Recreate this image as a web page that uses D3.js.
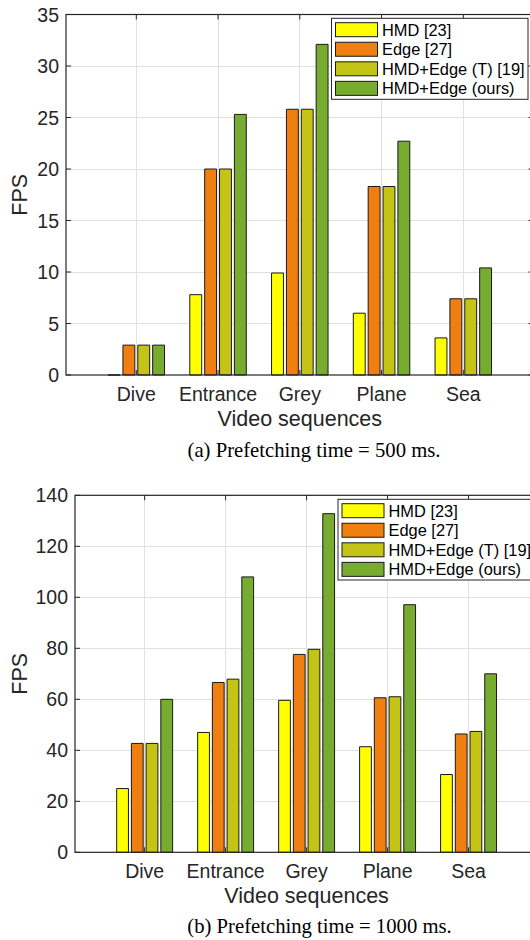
<!DOCTYPE html>
<html>
<head>
<meta charset="utf-8">
<script src="https://cdn.jsdelivr.net/npm/d3@7"></script>
<style>
  html, body { margin: 0; padding: 0; background: #fff; }
  svg { display: block; }
</style>
</head>
<body>
<svg id="fig" width="530" height="940"></svg>
<script>
// ---------- data ----------
const categories = ["Dive", "Entrance", "Grey", "Plane", "Sea"];
const seriesNames = ["HMD [23]", "Edge [27]", "HMD+Edge (T) [19]", "HMD+Edge (ours)"];
const seriesColors = ["#FFFF00", "#EE7F10", "#C4C416", "#77AC30"];

// (a) Prefetching time = 500 ms
const a_hmd   = [0, 7.8, 9.9, 6.0, 3.6];
const a_edge  = [2.9, 20.0, 25.8, 18.3, 7.4];
const a_hmdEdgeT = [2.9, 20.0, 25.8, 18.3, 7.4];
const a_ours  = [2.9, 25.3, 32.1, 22.7, 10.4];
const a_ticks = [0, 5, 10, 15, 20, 25, 30, 35];

// (b) Prefetching time = 1000 ms
const b_hmd   = [25.0, 47.0, 59.6, 41.4, 30.5];
const b_edge  = [42.7, 66.6, 77.6, 60.6, 46.4];
const b_hmdEdgeT = [42.7, 67.9, 79.6, 61.0, 47.4];
const b_ours  = [60.0, 108.0, 132.8, 97.1, 70.0];
const b_ticks = [0, 20, 40, 60, 80, 100, 120, 140];

const captionA = "(a) Prefetching time = 500 ms.";
const captionB = "(b) Prefetching time = 1000 ms.";
const xLabel = "Video sequences";
const yLabel = "FPS";

// ---------- drawing ----------
const svg = d3.select("#fig");
const AX = "#262626";
const GRID = "#e0e0e0";
const SANS = "'Liberation Sans', Arial, Helvetica, sans-serif";
const SERIF = "'Liberation Serif', 'Times New Roman', serif";

function drawPanel(cfg) {
  const { left, right, top, bottom, ymax, ticks, series, legend, caption } = cfg;
  const g = svg.append("g");
  const x = d3.scaleLinear().domain([0.14, 5.86]).range([left, right]);
  const y = d3.scaleLinear().domain([0, ymax]).range([bottom, top]);
  const catIdx = categories.map((c, i) => i + 1);

  // grid
  g.append("g").selectAll("line.gy").data(ticks.slice(1)).join("line")
    .attr("x1", left).attr("x2", right)
    .attr("y1", d => y(d)).attr("y2", d => y(d))
    .attr("stroke", GRID).attr("stroke-width", 1).attr("shape-rendering", "crispEdges");
  g.append("g").selectAll("line.gx").data(catIdx).join("line")
    .attr("x1", d => x(d)).attr("x2", d => x(d))
    .attr("y1", top).attr("y2", bottom)
    .attr("stroke", GRID).attr("stroke-width", 1).attr("shape-rendering", "crispEdges");

  // bars (MATLAB grouped layout)
  const nS = series.length;
  const step = Math.min(0.8, nS / (nS + 1.5)) / nS;
  const bw = step * 0.8;
  series.forEach((vals, s) => {
    const off = (s - (nS - 1) / 2) * step;
    g.append("g").selectAll("path").data(vals).join("path")
      .attr("d", (v, i) => {
        const x0 = x(i + 1 + off - bw / 2), x1 = x(i + 1 + off + bw / 2);
        const y0 = y(0), y1 = y(v);
        return `M${x0},${y0}V${y1}H${x1}V${y0}Z`;
      })
      .attr("fill", seriesColors[s])
      .attr("stroke", "#1a1a1a").attr("stroke-width", 1);
  });

  // axes box
  g.append("rect").attr("x", left).attr("y", top)
    .attr("width", right - left).attr("height", bottom - top)
    .attr("fill", "none").attr("stroke", AX).attr("stroke-width", 1.2);

  // y ticks + labels
  const tl = 5;
  g.append("g").selectAll("path").data(ticks).join("path")
    .attr("d", d => `M${left},${y(d)}h${tl}M${right},${y(d)}h${-tl}`)
    .attr("stroke", AX).attr("stroke-width", 1);
  g.append("g").selectAll("text").data(ticks).join("text")
    .attr("x", left - 7).attr("y", d => y(d)).attr("dy", "0.36em")
    .attr("text-anchor", "end").attr("fill", AX)
    .style("font-family", SANS).style("font-size", "19.5px")
    .text(d => d);

  // x ticks + labels
  g.append("g").selectAll("path").data(catIdx).join("path")
    .attr("d", d => `M${x(d)},${bottom}v${-tl}M${x(d)},${top}v${tl}`)
    .attr("stroke", AX).attr("stroke-width", 1);
  g.append("g").selectAll("text").data(categories).join("text")
    .attr("x", (d, i) => x(i + 1)).attr("y", bottom + 25.8)
    .attr("text-anchor", "middle").attr("fill", AX)
    .style("font-family", SANS).style("font-size", "19.5px")
    .text(d => d);

  // axis labels
  g.append("text").attr("x", (left + right) / 2).attr("y", bottom + 50.5)
    .attr("text-anchor", "middle").attr("fill", AX)
    .style("font-family", SANS).style("font-size", "21.5px").text(xLabel);
  g.append("text")
    .attr("transform", `translate(27,${(top + bottom) / 2}) rotate(-90)`)
    .attr("text-anchor", "middle").attr("fill", AX)
    .style("font-family", SANS).style("font-size", "21.5px").text(yLabel);

  // legend
  const lg = g.append("g");
  lg.append("rect").attr("x", legend.x).attr("y", legend.y)
    .attr("width", legend.w).attr("height", legend.h)
    .attr("fill", "#fff").attr("stroke", AX).attr("stroke-width", 1);
  seriesNames.forEach((name, s) => {
    const cy = legend.y + 11.4 + s * 19.55;
    lg.append("rect").attr("x", legend.x + 4).attr("y", cy - 7)
      .attr("width", 42).attr("height", 14)
      .attr("fill", seriesColors[s]).attr("stroke", "#1a1a1a").attr("stroke-width", 1);
    lg.append("text").attr("x", legend.x + 50.5).attr("y", cy).attr("dy", "0.36em")
      .attr("fill", "#000")
      .style("font-family", SANS).style("font-size", "16.4px").text(name);
  });

  // caption
  g.append("text").attr("x", caption.x).attr("y", caption.y)
    .attr("text-anchor", "middle").attr("fill", "#000")
    .style("font-family", SERIF).style("font-size", "20.7px").text(caption.text);
}

drawPanel({
  left: 66, right: 533.6, top: 14.5, bottom: 375, ymax: 35, ticks: a_ticks,
  series: [a_hmd, a_edge, a_hmdEdgeT, a_ours],
  legend: { x: 331.5, y: 18.3, w: 196.5, h: 81 },
  caption: { x: 314, y: 456.5, text: captionA }
});

drawPanel({
  left: 75, right: 538.2, top: 495.3, bottom: 852.3, ymax: 140, ticks: b_ticks,
  series: [b_hmd, b_edge, b_hmdEdgeT, b_ours],
  legend: { x: 338, y: 499.3, w: 196.5, h: 80.7 },
  caption: { x: 319.5, y: 932.7, text: captionB }
});
</script>
</body>
</html>
